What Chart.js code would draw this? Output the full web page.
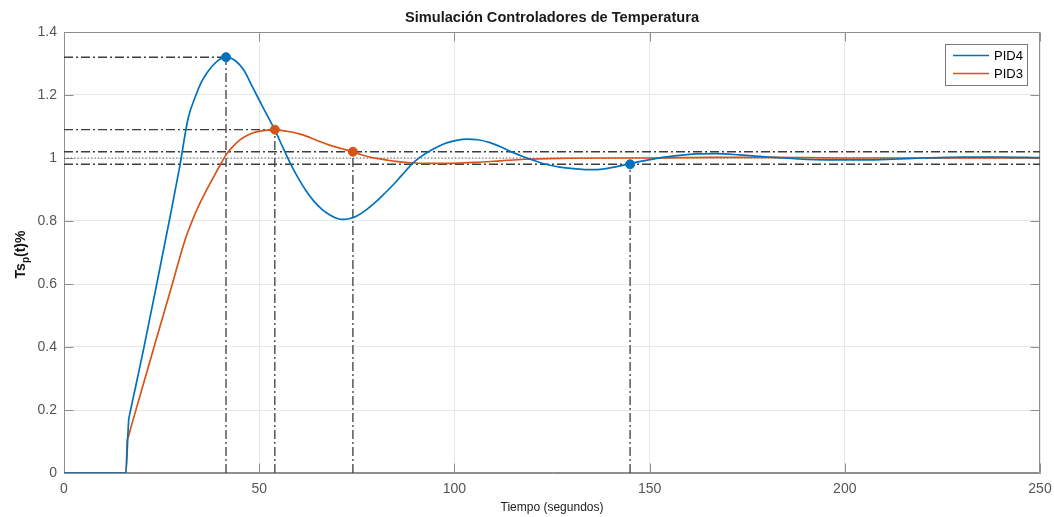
<!DOCTYPE html>
<html><head><meta charset="utf-8">
<script src="https://cdn.jsdelivr.net/npm/chart.js@4/dist/chart.umd.min.js"></script>
<style>html,body{margin:0;padding:0;background:#fff;}</style>
</head><body>
<canvas id="c" width="1054" height="517"></canvas>
<script>
// ---------- data ----------
const chartTitle = 'Simulación Controladores de Temperatura';
const xAxisTitle = 'Tiempo (segundos)';
const yAxisTitleParts = ['Ts', 'p', '(t)%'];
const seriesNames = ['PID4', 'PID3'];
const xTicks = [0, 50, 100, 150, 200, 250];
const xTickLabels = ['0', '50', '100', '150', '200', '250'];
const yTicks = [0, 0.2, 0.4, 0.6, 0.8, 1.0, 1.2, 1.4];
const yTickLabels = ['0', '0.2', '0.4', '0.6', '0.8', '1', '1.2', '1.4'];

const timePID4 = [0, 15.8, 16.6, 16.7, 18.6, 20.5, 24.0, 27.2, 29.6, 31.8, 33.8, 35, 36.5, 38, 39.5, 40.5, 41.5, 42.5, 44, 46, 48.5, 51, 54, 56, 58, 60, 62, 64, 66, 68, 70, 71.5, 73, 75, 77.5, 80, 82, 84.4, 86.5, 89.5, 91.5, 93.8, 96, 98, 100.5, 103.2, 106, 109.1, 112, 115.1, 117.5, 120.2, 122, 124.5, 127, 130.5, 134, 137.3, 141, 144.5, 148, 151.8, 156, 162, 167, 173, 178, 182, 188, 195, 205, 212, 220, 230, 240, 250];
const valuesPID4 = [0, 0, 0.173, 0.179, 0.289, 0.40, 0.615, 0.815, 0.97, 1.126, 1.20, 1.236, 1.268, 1.292, 1.31, 1.317, 1.32, 1.318, 1.308, 1.28, 1.22, 1.16, 1.089, 1.035, 0.982, 0.936, 0.896, 0.863, 0.838, 0.82, 0.808, 0.805, 0.807, 0.816, 0.836, 0.862, 0.886, 0.916, 0.945, 0.985, 1.005, 1.023, 1.037, 1.048, 1.056, 1.06, 1.058, 1.049, 1.035, 1.017, 1.005, 0.993, 0.985, 0.977, 0.971, 0.966, 0.963, 0.964, 0.971, 0.981, 0.99, 0.999, 1.006, 1.013, 1.014, 1.01, 1.005, 1.002, 0.997, 0.994, 0.994, 0.996, 1.0, 1.003, 1.003, 1.001];

const timePID3 = [0, 15.9, 16.2, 16.3, 17.3, 20, 23.3, 27.6, 31, 32.5, 34, 36.5, 39, 41.5, 43, 45, 47, 49, 51, 54, 57, 60.5, 63, 65.6, 68, 71, 74, 76, 78, 80, 82, 85, 88.6, 93, 99, 105, 111.7, 118, 127, 140, 150, 165, 180, 200, 250];
const valuesPID3 = [0, 0, 0.105, 0.109, 0.152, 0.268, 0.41, 0.594, 0.74, 0.79, 0.835, 0.898, 0.955, 1.01, 1.033, 1.057, 1.072, 1.082, 1.087, 1.089, 1.085, 1.076, 1.065, 1.052, 1.041, 1.03, 1.02, 1.011, 1.004, 0.999, 0.995, 0.989, 0.985, 0.983, 0.983, 0.986, 0.991, 0.996, 0.999, 1.0, 1.0, 1.002, 1.002, 1.0, 1.0];

const markerTimesPID4 = [41.5, 145];
const markerValuesPID4 = [1.32, 0.98];
const markerTimesPID3 = [54, 74];
const markerValuesPID3 = [1.09, 1.02];
const peakTimes = [41.5, 54];
const peakValues = [1.32, 1.09];
const bandLimits = [0.98, 1.02];
const setpointValue = 1.0;

// ---------- styles ----------
const FONT = "'Liberation Sans', Arial, Helvetica, sans-serif";
const BLUE = '#0072BD', ORANGE = '#D95319';
const GUIDE = '#3d3d3d';
const DASHDOT = [9, 3, 2, 3];
const X0 = 0, X1 = 250, Y0 = 0, Y1 = 1.4;

const zip = (xs, ys) => xs.map((x, i) => ({x: x, y: ys[i]}));

const guideSets = [];
bandLimits.forEach(v => guideSets.push({data: [{x: X0, y: v}, {x: X1, y: v}], dash: DASHDOT, w: 1.4, c: GUIDE}));
guideSets.push({data: [{x: X0, y: setpointValue}, {x: X1, y: setpointValue}], dash: [1.2, 2.2], w: 1.1, c: '#555555'});
peakTimes.forEach((t, i) => guideSets.push({data: [{x: X0, y: peakValues[i]}, {x: t, y: peakValues[i]}], dash: DASHDOT, w: 1.4, c: GUIDE}));
const allMarkT = markerTimesPID4.concat(markerTimesPID3);
const allMarkV = markerValuesPID4.concat(markerValuesPID3);
allMarkT.forEach((t, i) => guideSets.push({data: [{x: t, y: Y0}, {x: t, y: allMarkV[i]}], dash: DASHDOT, w: 1.4, c: '#4a4a4a'}));

const datasets = [
  {label: seriesNames[0], data: zip(timePID4, valuesPID4), borderColor: BLUE, backgroundColor: BLUE, borderWidth: 1.7, pointRadius: 0, cubicInterpolationMode: 'monotone', order: 1},
  {label: seriesNames[1], data: zip(timePID3, valuesPID3), borderColor: ORANGE, backgroundColor: ORANGE, borderWidth: 1.7, pointRadius: 0, cubicInterpolationMode: 'monotone', order: 1},
  {label: 'm4', data: zip(markerTimesPID4, markerValuesPID4), showLine: false, pointRadius: 4.5, pointBackgroundColor: BLUE, pointBorderColor: BLUE, order: 0},
  {label: 'm3', data: zip(markerTimesPID3, markerValuesPID3), showLine: false, pointRadius: 4.5, pointBackgroundColor: ORANGE, pointBorderColor: ORANGE, order: 0}
];
guideSets.forEach((g, i) => datasets.push({label: 'g' + i, data: g.data, borderColor: g.c, borderWidth: g.w, borderDash: g.dash, pointRadius: 0, tension: 0, order: 2}));

const framePlugin = {
  id: 'frame',
  beforeDatasetsDraw(chart) {
    const {ctx, chartArea: a, scales} = chart;
    ctx.save();
    ctx.strokeStyle = '#8f8f8f';
    ctx.lineWidth = 1;
    ctx.beginPath();
    const L = Math.round(a.left) + 0.5, R = Math.round(a.right) - 0.5, T = Math.round(a.top) + 0.5, B = Math.round(a.bottom) - 0.5;
    ctx.rect(L, T, R - L, B - T);
    const tl = 9;
    xTicks.forEach(v => {
      const x = Math.round(scales.x.getPixelForValue(v)) + 0.5;
      ctx.moveTo(x, B); ctx.lineTo(x, B - tl);
      ctx.moveTo(x, T); ctx.lineTo(x, T + tl);
    });
    yTicks.forEach(v => {
      const y = Math.round(scales.y.getPixelForValue(v)) + 0.5;
      ctx.moveTo(L, y); ctx.lineTo(L + tl, y);
      ctx.moveTo(R, y); ctx.lineTo(R - tl, y);
    });
    ctx.stroke();
    ctx.restore();
  }
};

const textPlugin = {
  id: 'texts',
  afterDraw(chart) {
    const {ctx, chartArea: a} = chart;
    ctx.save();
    ctx.font = 'bold 14.6px ' + FONT;
    ctx.fillStyle = '#1a1a1a';
    ctx.textAlign = 'center';
    ctx.textBaseline = 'middle';
    ctx.fillText(chartTitle, (a.left + a.right) / 2, 18);
    ctx.restore();
    ctx.save();
    ctx.translate(21, (a.top + a.bottom) / 2 + 2);
    ctx.rotate(-Math.PI / 2);
    ctx.fillStyle = '#111';
    ctx.textBaseline = 'middle';
    ctx.textAlign = 'left';
    const big = 'bold 14px ' + FONT, small = 'bold 10px ' + FONT;
    ctx.font = big; const w1 = ctx.measureText(yAxisTitleParts[0]).width;
    ctx.font = small; const w2 = ctx.measureText(yAxisTitleParts[1]).width;
    ctx.font = big; const w3 = ctx.measureText(yAxisTitleParts[2]).width;
    let x = -(w1 + w2 + w3) / 2;
    ctx.font = big; ctx.fillText(yAxisTitleParts[0], x, 0); x += w1;
    ctx.font = small; ctx.fillText(yAxisTitleParts[1], x, 5); x += w2;
    ctx.font = big; ctx.fillText(yAxisTitleParts[2], x, 0);
    ctx.restore();
  }
};

const legendPlugin = {
  id: 'boxlegend',
  afterDraw(chart) {
    const {ctx, chartArea: a} = chart;
    const bx = a.right - 95, by = a.top + 12, bw = 82, bh = 41;
    ctx.save();
    ctx.fillStyle = '#fff';
    ctx.fillRect(bx, by, bw, bh);
    ctx.strokeStyle = '#7a7a7a';
    ctx.lineWidth = 1;
    ctx.strokeRect(Math.round(bx) + 0.5, Math.round(by) + 0.5, bw, bh);
    ctx.font = '13px ' + FONT;
    ctx.textBaseline = 'middle';
    ctx.fillStyle = '#000';
    [0, 1].forEach(i => {
      const ds = chart.data.datasets[i];
      const y = by + 11.5 + i * 18;
      ctx.strokeStyle = ds.borderColor;
      ctx.lineWidth = 1.7;
      ctx.beginPath(); ctx.moveTo(bx + 8, y); ctx.lineTo(bx + 44, y); ctx.stroke();
      ctx.fillText(ds.label, bx + 49, y + 0.5);
    });
    ctx.restore();
  }
};

new Chart(document.getElementById('c'), {
  type: 'line',
  data: {datasets: datasets},
  options: {
    responsive: false,
    animation: false,
    devicePixelRatio: 1,
    layout: {padding: {left: 0, right: 14, top: 32, bottom: 0}},
    plugins: {
      legend: {display: false},
      tooltip: {enabled: false},
      title: {display: false}
    },
    scales: {
      x: {
        type: 'linear', min: X0, max: X1,
        afterBuildTicks: s => { s.ticks = xTicks.map(v => ({value: v})); },
        afterFit: s => { s.height = 44; s.paddingLeft = 0; s.paddingRight = 0; },
        grid: {color: '#e8e8e8', drawTicks: false},
        border: {display: true, color: '#8f8f8f'},
        ticks: {padding: 8, color: '#555', font: {family: FONT, size: 14}, maxRotation: 0, callback: (v, i) => xTickLabels[i]},
        title: {display: true, text: xAxisTitle, color: '#222', font: {family: FONT, size: 12}, padding: {top: 0, bottom: 2}}
      },
      y: {
        type: 'linear', min: Y0, max: Y1,
        afterBuildTicks: s => { s.ticks = yTicks.map(v => ({value: v})); },
        afterFit: s => { s.width = 64; s.paddingTop = 0; s.paddingBottom = 0; },
        grid: {color: '#e8e8e8', drawTicks: false},
        border: {display: true, color: '#8f8f8f'},
        ticks: {padding: 7, color: '#555', font: {family: FONT, size: 14}, callback: (v, i) => yTickLabels[i]}
      }
    }
  },
  plugins: [framePlugin, textPlugin, legendPlugin]
});
</script>
</body></html>
